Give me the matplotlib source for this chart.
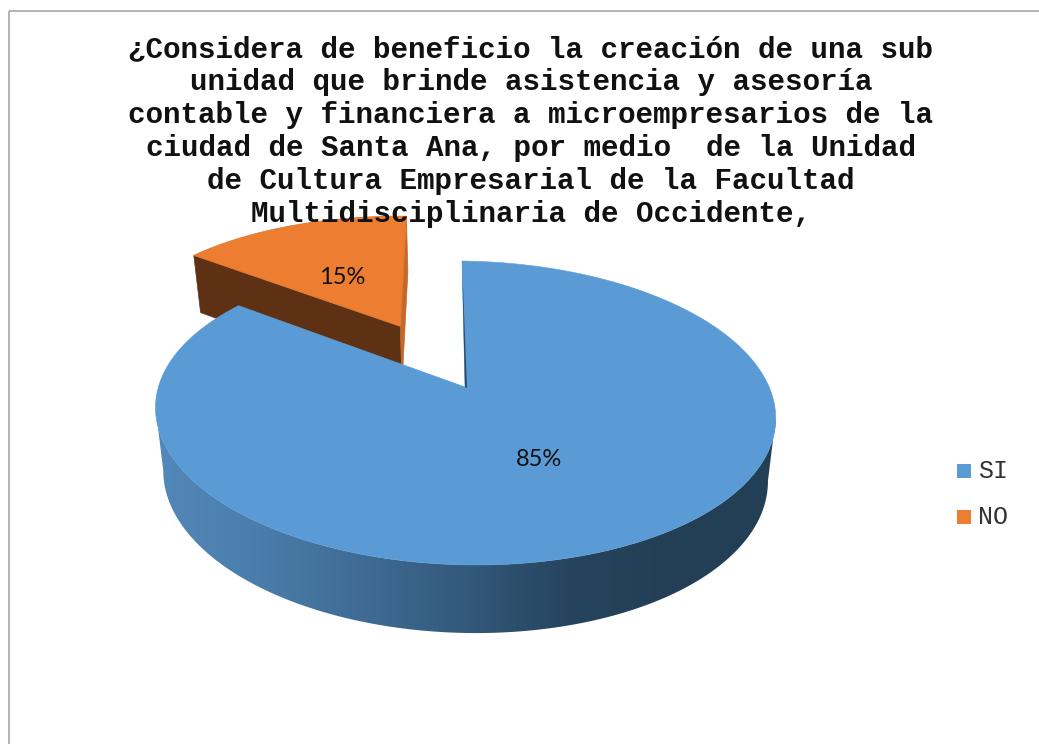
"""3D exploded pie: beneficio de la sub unidad (SI / NO)."""

import numpy as np
import matplotlib
matplotlib.use("Agg")
import matplotlib.pyplot as plt
from matplotlib.colors import LinearSegmentedColormap
from matplotlib.patches import Polygon, Rectangle

labels = ["SI", "NO"]
values = [85, 15]
title_lines = [
    "¿Considera de beneficio la creación de una sub",
    "unidad que brinde asistencia y asesoría",
    "contable y financiera a microempresarios de la",
    "ciudad de Santa Ana, por medio  de la Unidad",
    "de Cultura Empresarial de la Facultad",
    "Multidisciplinaria de Occidente,",
]

BLUE = "#5B9BD5"
ORANGE = "#ED7D31"
BROWN = "#5E3114"
ORANGE_EDGE = "#C4692A"

# camera used for the fake 3D: plane seen in perspective, then extruded down
CX, CY = 465, 387
RX, RY = 305.5, 147.5
PERSP = 0.171
SKEW = -3.5
TILT = 3.5
DEPTH = 62
SHRINK = 0.975
EXPLODE = 0.49

side_cmap = LinearSegmentedColormap.from_list(
    "side", ["#5288BA", "#4A7DAA", "#3F6B94", "#33597B", "#26445E", "#233F56", "#233F56"])


def project(u, v):
    w = 1 + PERSP * v
    return CX + (RX * u + SKEW * v) / w, CY + (TILT * u - RY * v) / w


def project_bottom(u, v):
    x, y = project(u, v)
    w = 1 + PERSP * v
    return CX + SHRINK * (x - CX), y + DEPTH / np.sqrt(w)


def disc(deg, ox=0.0, oy=0.0):
    a = np.radians(deg)
    return np.sin(a) + ox, np.cos(a) + oy


fig = plt.figure(figsize=(10.39, 7.44), dpi=100)
ax = fig.add_axes([0, 0, 1, 1])
ax.axis("off")

# chart frame, runs off the picture on the right and the bottom
ax.add_patch(Rectangle((9, 11), 1100, 800, fill=False, edgecolor="#A6A6A6", linewidth=1.2))

shares = np.array(values) / sum(values) * 360
blue_end = shares[0]

# NO slice, pulled out along its bisector
mid = np.radians(blue_end + shares[1] / 2)
ox, oy = EXPLODE * np.sin(mid), EXPLODE * np.cos(mid)
arc = np.linspace(blue_end, 360, 60)
u, v = disc(arc, ox, oy)
tip = project(ox, oy)
tip_bot = project_bottom(ox, oy)
rx_o, ry_o = project(u, v)
start_bot = project_bottom(u[0], v[0])
end_bot = project_bottom(u[-1], v[-1])
ax.add_patch(Polygon([(rx_o[0], ry_o[0]), tip, tip_bot, start_bot], facecolor=BROWN, edgecolor=BROWN, linewidth=0.5, zorder=2))
ax.add_patch(Polygon([tip, (rx_o[-1], ry_o[-1]), end_bot, tip_bot], facecolor=ORANGE_EDGE, edgecolor=ORANGE_EDGE, linewidth=0.5, zorder=2))
ax.add_patch(Polygon(np.r_[[tip], np.c_[rx_o, ry_o]], facecolor=ORANGE, edgecolor="#E0782F", linewidth=0.6, zorder=3))

# SI slice: front wall is a horizontal gradient clipped to the silhouette
arc = np.linspace(0, blue_end, 800)
u, v = disc(arc)
xt, yt = project(u, v)
xb, yb = project_bottom(u, v)
t0, t1 = np.argmax(xt), np.argmin(xt)
b0, b1 = np.argmax(xb), np.argmin(xb)
outline = np.r_[np.c_[xt[t0:t1 + 1], yt[t0:t1 + 1]], np.c_[xb[b0:b1 + 1], yb[b0:b1 + 1]][::-1]]
wall = Polygon(outline, closed=True, facecolor="none", edgecolor="none", transform=ax.transData)
ax.add_patch(wall)
grad = np.linspace(0, 1, 256).reshape(1, -1)
img = ax.imshow(grad, cmap=side_cmap, extent=(157, 777, 640, 380), aspect="auto", zorder=4, interpolation="bilinear")
img.set_clip_path(wall)

apex = project(0, 0)
ax.add_patch(Polygon(np.r_[[apex], np.c_[xt, yt]], facecolor=BLUE, edgecolor=BLUE, linewidth=0.4, zorder=5))
ax.add_patch(Polygon([(xt[0], yt[0]), apex, (apex[0] + 2, apex[1] + 1)], facecolor="#2B4A66", edgecolor="none", zorder=6))

# percent labels
ax.text(539, 459, f"{values[0]}%", family="Lato", fontsize=17, ha="center", va="center", color="#111111", zorder=7)
ax.text(342, 277, f"{values[1]}%", family="Lato", fontsize=17, ha="center", va="center", color="#111111", zorder=7)

for i, line in enumerate(title_lines):
    ax.text(531, 57 + 33 * i, line, family="Liberation Mono", fontweight="bold", fontsize=21.1,
            ha="center", va="baseline", color="#111111", zorder=8)

# legend
legend_y = [471, 517]
for name, col, y in zip(labels, [BLUE, ORANGE], legend_y):
    ax.add_patch(Rectangle((957, y - 7), 14, 14, facecolor=col, edgecolor="none"))
    ax.text(978, y, name, family="Liberation Mono", fontsize=18, ha="left", va="center", color="#333333")

ax.set_xlim(0, 1039)
ax.set_ylim(744, 0)
fig.savefig("out.png", dpi=100)
